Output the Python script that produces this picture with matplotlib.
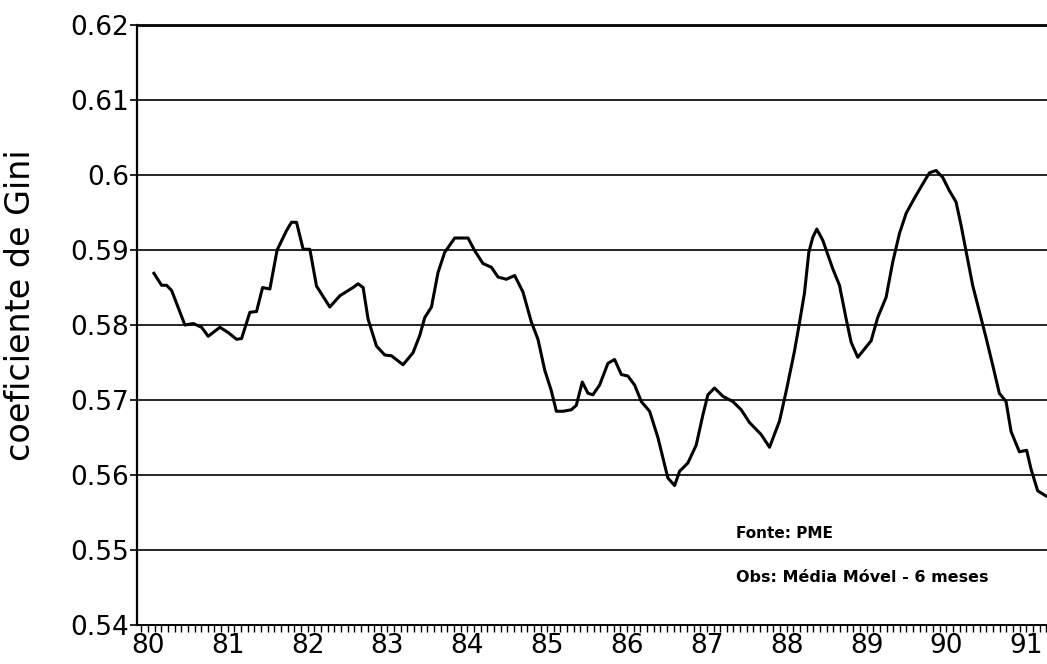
import numpy as np
import matplotlib
matplotlib.use("Agg")
import matplotlib.pyplot as plt
from matplotlib.ticker import MultipleLocator, FixedLocator

# dados (ano decimal, coeficiente de Gini - media movel 6 meses)
anos = [80.075, 80.171, 80.234, 80.297, 80.463, 80.567, 80.672, 80.755, 80.901,
        81.005, 81.110, 81.173, 81.277, 81.360, 81.436, 81.527, 81.618, 81.736,
        81.798, 81.861, 81.944, 82.028, 82.111, 82.278, 82.403, 82.569, 82.632,
        82.695, 82.757, 82.862, 82.966, 83.050, 83.195, 83.320, 83.404, 83.467,
        83.551, 83.633, 83.717, 83.842, 84.009, 84.093, 84.196, 84.302, 84.384,
        84.489, 84.593, 84.697, 84.802, 84.885, 84.969, 85.053, 85.115, 85.198,
        85.303, 85.365, 85.440, 85.511, 85.573, 85.657, 85.761, 85.845, 85.929,
        86.011, 86.095, 86.179, 86.283, 86.387, 86.512, 86.596, 86.658, 86.762,
        86.867, 86.950, 87.013, 87.096, 87.200, 87.325, 87.430, 87.534, 87.680,
        87.785, 87.910, 87.994, 88.097, 88.160, 88.223, 88.277, 88.327, 88.377,
        88.452, 88.577, 88.661, 88.745, 88.807, 88.890, 88.974, 89.057, 89.140,
        89.245, 89.328, 89.412, 89.496, 89.599, 89.703, 89.787, 89.871, 89.953,
        90.038, 90.121, 90.184, 90.247, 90.329, 90.413, 90.497, 90.579, 90.663,
        90.747, 90.810, 90.914, 91.005, 91.060, 91.143, 91.248]
gini = [0.5869, 0.5853, 0.5853, 0.5846, 0.5800, 0.5802, 0.5797, 0.5785, 0.5797,
        0.5790, 0.5781, 0.5782, 0.5817, 0.5818, 0.5850, 0.5848, 0.5900, 0.5926,
        0.5937, 0.5937, 0.5901, 0.5901, 0.5852, 0.5824, 0.5839, 0.5850, 0.5855,
        0.5850, 0.5808, 0.5772, 0.5760, 0.5759, 0.5747, 0.5763, 0.5786, 0.5810,
        0.5824, 0.5870, 0.5897, 0.5916, 0.5916, 0.5899, 0.5882, 0.5877, 0.5864,
        0.5861, 0.5866, 0.5844, 0.5804, 0.5781, 0.5740, 0.5712, 0.5685, 0.5685,
        0.5687, 0.5693, 0.5724, 0.5709, 0.5707, 0.5720, 0.5749, 0.5754, 0.5734,
        0.5732, 0.5720, 0.5698, 0.5685, 0.5650, 0.5596, 0.5586, 0.5605, 0.5616,
        0.5640, 0.5680, 0.5707, 0.5716, 0.5705, 0.5698, 0.5687, 0.5670, 0.5654,
        0.5637, 0.5672, 0.5712, 0.5765, 0.5803, 0.5843, 0.5897, 0.5917, 0.5928,
        0.5913, 0.5875, 0.5853, 0.5808, 0.5777, 0.5757, 0.5768, 0.5779, 0.5810,
        0.5837, 0.5884, 0.5922, 0.5949, 0.5969, 0.5988, 0.6003, 0.6006, 0.5997,
        0.5979, 0.5964, 0.5933, 0.5898, 0.5853, 0.5818, 0.5783, 0.5747, 0.5709,
        0.5698, 0.5658, 0.5631, 0.5633, 0.5608, 0.5579, 0.5572]

anos_rotulos = [80, 81, 82, 83, 84, 85, 86, 87, 88, 89, 90, 91]
y_ticks = [0.54, 0.55, 0.56, 0.57, 0.58, 0.59, 0.60, 0.61, 0.62]
y_rotulos = ["0.54", "0.55", "0.56", "0.57", "0.58", "0.59", "0.6", "0.61", "0.62"]

plt.rcParams['font.family'] = ['DejaVu Sans']

fig = plt.figure(figsize=(10.47, 6.64), dpi=100)
ax = fig.add_axes([0.1313, 0.0587, 0.8687, 0.9036])

# linhas de grade horizontais
for v in y_ticks[1:]:
    ax.axhline(v, color='black', lw=1.2, zorder=1)

ax.plot(anos, gini, color='black', lw=2.2, zorder=3)

ax.set_xlim(79.869, 91.26)
ax.set_ylim(0.54, 0.62)

ax.yaxis.set_major_locator(FixedLocator(y_ticks))
ax.set_yticklabels(y_rotulos)
ax.xaxis.set_major_locator(FixedLocator(anos_rotulos))
ax.set_xticklabels([str(a) for a in anos_rotulos])
ax.xaxis.set_minor_locator(MultipleLocator(1 / 12))

ax.tick_params(axis='y', direction='out', length=5, width=1.2, pad=1,
               labelsize=19, color='black')
ax.tick_params(axis='x', which='both', direction='out', length=5, width=1.0,
               pad=1, labelsize=19)

ax.spines['right'].set_visible(False)
ax.spines['left'].set_linewidth(1.6)
ax.spines['bottom'].set_linewidth(1.4)
ax.spines['top'].set_linewidth(2.0)

ax.set_ylabel('coeficiente de Gini', fontsize=24)
ax.yaxis.set_label_coords(-0.1105, 0.533)

ax.text(87.37, 0.5522, 'Fonte: PME', fontsize=11, fontweight='bold', va='center')
ax.text(87.37, 0.5464, 'Obs: Média Móvel - 6 meses', fontsize=11.5,
        fontweight='bold', va='center')

fig.savefig('out.png', dpi=100)
